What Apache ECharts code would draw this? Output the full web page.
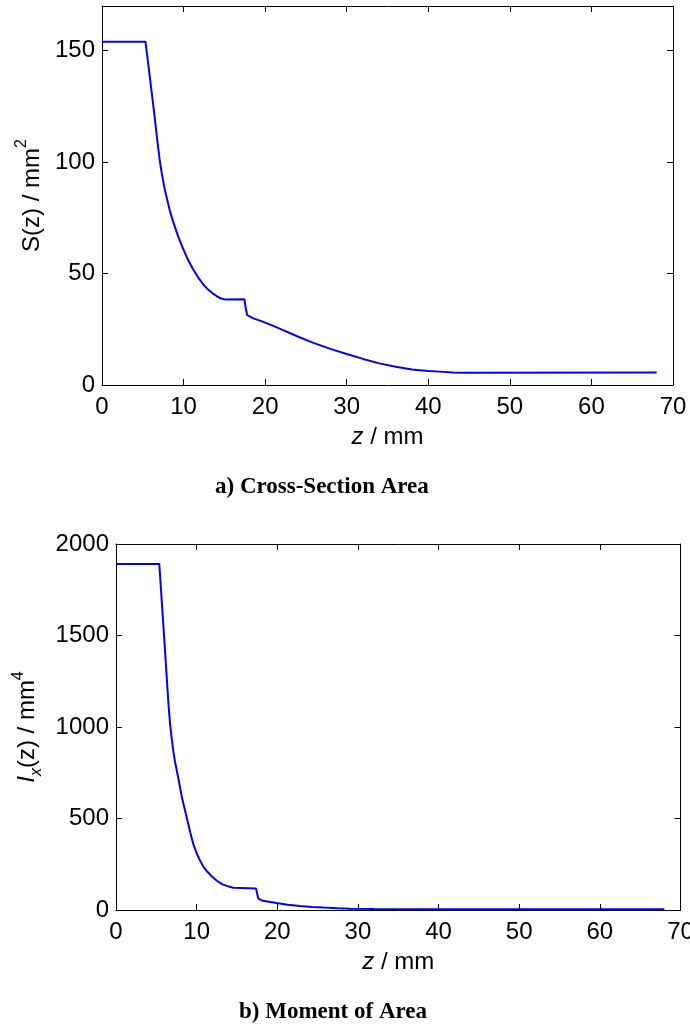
<!DOCTYPE html>
<html><head><meta charset="utf-8">
<script src="https://cdn.jsdelivr.net/npm/echarts@6/dist/echarts.min.js"></script>
<style>html,body{margin:0;padding:0;background:#fff}#c{width:690px;height:1030px}</style>
</head><body><div id="c"></div>
<script>
// a) Cross-section area S(z) [mm^2] vs z [mm]
const zS = [0, 5.33, 5.6, 5.85, 6.1, 6.46, 6.8, 7.07, 7.3, 7.6, 7.9, 8.3, 8.7, 9.3, 9.9, 10.5, 11.15, 11.8, 12.4, 13.0, 13.6, 14.1, 14.6, 15.2, 17.45, 17.6, 17.8, 18.5, 19.7, 21, 22.2, 24.2, 26, 28, 30, 32, 34, 36, 38, 40, 41.4, 43, 44, 68];
const areaS = [154, 154, 146, 138.5, 131, 120, 109, 101, 95.5, 89.5, 84.5, 78.5, 73.5, 67, 61.5, 56.5, 52, 48.2, 45.2, 42.8, 41, 39.8, 38.8, 38.3, 38.5, 35, 31.3, 30, 28.4, 26.5, 24.6, 21.4, 18.8, 16.2, 13.9, 11.7, 9.7, 8.2, 7.0, 6.3, 6.0, 5.6, 5.5, 5.6];
// b) Moment of area I_x(z) [mm^4] vs z [mm]
const zI = [0, 5.37, 5.7, 6.03, 6.35, 6.5, 6.7, 6.9, 7.1, 7.32, 7.73, 8.2, 8.77, 9.2, 9.59, 10.0, 10.42, 10.83, 11.3, 11.9, 12.5, 13.2, 14.0, 14.55, 17.36, 17.5, 17.65, 18.2, 19.9, 21.3, 22.8, 24.3, 25.7, 27.5, 29, 32, 40, 68];
const momentI = [1891, 1891, 1670, 1450, 1230, 1130, 1020, 940, 870, 810, 720, 610, 505, 425, 360, 310, 270, 237, 210, 183, 160, 140, 128, 122, 118, 90, 62, 50, 38, 29, 22, 17, 13, 9, 7, 5, 4, 4];
// tick settings
const xTickMin = 0, xTickMax = 70, xTickStep = 10;
const sTickMax = 170, sTickStep = 50;
const iTickMax = 2000, iTickStep = 500;
const titles = ['a) Cross-Section Area', 'b) Moment of Area'];

const pairs = (xs, ys) => xs.map((x, i) => [x, ys[i]]);
const FONT = 'Liberation Sans';
const black = '#000';
const lineStyleAx = { color: black, width: 1 };
const tickInside = { show: true, inside: true, length: 6, lineStyle: { color: black, width: 1 } };
const lab = { color: black, fontSize: 24, fontFamily: FONT, formatter: v => String(v) };

function xAxes(g) {
  return [
    { gridIndex: g, type: 'value', min: xTickMin, max: xTickMax, interval: xTickStep, position: 'bottom',
      axisLine: { onZero: false, lineStyle: lineStyleAx }, axisTick: tickInside, splitLine: { show: false },
      axisLabel: Object.assign({ margin: 10 }, lab),
      name: '{i|z}{n| / mm}', nameLocation: 'middle', nameGap: 40,
      nameTextStyle: { rich: { i: { fontStyle: 'italic', fontSize: 24, fontFamily: FONT, color: black }, n: { fontSize: 24, fontFamily: FONT, color: black } } } },
    { gridIndex: g, type: 'value', min: xTickMin, max: xTickMax, interval: xTickStep, position: 'top',
      axisLine: { onZero: false, lineStyle: lineStyleAx }, axisTick: tickInside, splitLine: { show: false }, axisLabel: { show: false } }
  ];
}
function yAxes(g, max, step, name, rich, gap) {
  return [
    { gridIndex: g, type: 'value', min: 0, max: max, interval: step, position: 'left',
      axisLine: { show: true, onZero: false, lineStyle: lineStyleAx }, axisTick: tickInside, splitLine: { show: false },
      axisLabel: Object.assign({ margin: 7, showMaxLabel: max % step === 0 }, lab),
      name: name, nameLocation: 'middle', nameRotate: 90, nameGap: gap,
      nameTextStyle: { rich: rich } },
    { gridIndex: g, type: 'value', min: 0, max: max, interval: step, position: 'right',
      axisLine: { show: true, onZero: false, lineStyle: lineStyleAx }, axisTick: tickInside, splitLine: { show: false }, axisLabel: { show: false } }
  ];
}
const richS = {
  n: { fontSize: 24, fontFamily: FONT, color: black, lineHeight: 30, verticalAlign: 'bottom' },
  sup: { fontSize: 16, fontFamily: FONT, color: black, lineHeight: 30, verticalAlign: 'top' }
};
const richI = {
  i: { fontSize: 24, fontFamily: FONT, fontStyle: 'italic', color: black, lineHeight: 34, verticalAlign: 'middle' },
  sub: { fontSize: 16, fontFamily: FONT, fontStyle: 'italic', color: black, lineHeight: 34, verticalAlign: 'bottom' },
  n: { fontSize: 24, fontFamily: FONT, color: black, lineHeight: 34, verticalAlign: 'middle' },
  sup: { fontSize: 16, fontFamily: FONT, color: black, lineHeight: 34, verticalAlign: 'top' }
};

const chart = echarts.init(document.getElementById('c'), null, { renderer: 'canvas' });
chart.setOption({
  backgroundColor: '#fff',
  animation: false,
  grid: [
    { left: 102, top: 6, width: 571, height: 379, containLabel: false, outerBoundsMode: 'none' },
    { left: 116, top: 544, width: 564.5, height: 366, containLabel: false, outerBoundsMode: 'none' }
  ],
  xAxis: xAxes(0).concat(xAxes(1)),
  yAxis: yAxes(0, sTickMax, sTickStep, '{n|S(z) / mm}{sup|2}', richS, 56)
    .concat(yAxes(1, iTickMax, iTickStep, '{i|I}{sub|x}{n|(z) / mm}{sup|4}', richI, 56)),
  series: [
    { type: 'line', xAxisIndex: 0, yAxisIndex: 0, data: pairs(zS, areaS), showSymbol: false, symbol: 'none',
      lineStyle: { color: '#0000ff', width: 2 }, silent: true },
    { type: 'line', xAxisIndex: 2, yAxisIndex: 2, data: pairs(zI, momentI), showSymbol: false, symbol: 'none',
      lineStyle: { color: '#0000ff', width: 2 }, silent: true }
  ],
  graphic: [
    { type: 'text', left: 323 - 108, top: 476, style: { text: titles[0], font: 'bold 23px "Liberation Serif"', fill: black } },
    { type: 'text', left: 332 - 93, top: 1001, style: { text: titles[1], font: 'bold 23px "Liberation Serif"', fill: black } }
  ]
});
</script></body></html>
